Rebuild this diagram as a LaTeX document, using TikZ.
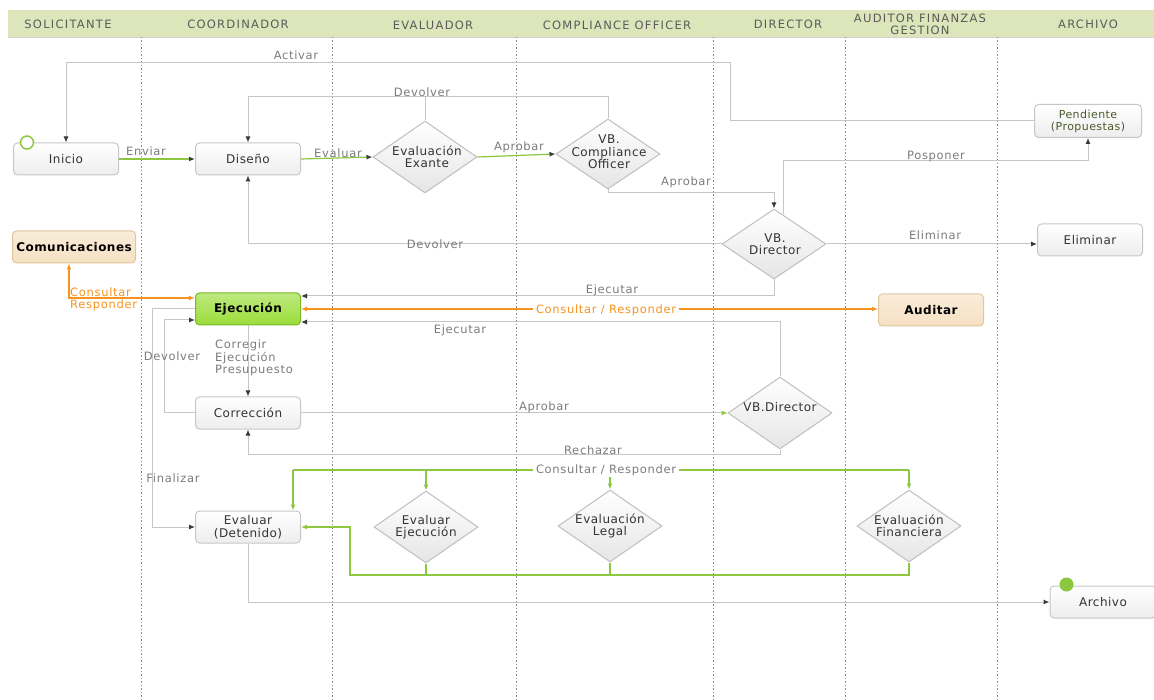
\documentclass[tikz,border=0pt]{standalone}
\usepackage{fontspec}
\setmainfont{DejaVu Sans}[LetterSpace=4]
\newfontfamily\hdrfont{DejaVu Sans}[LetterSpace=11]
\newfontfamily\lblfont{DejaVu Sans}[LetterSpace=6]
\usetikzlibrary{shapes.geometric,arrows.meta,calc}

\definecolor{hdrbg}{HTML}{DCE6BA}
\definecolor{hdrtx}{HTML}{5A5A5A}
\definecolor{lanec}{HTML}{8A8A8A}
\definecolor{wirec}{HTML}{C6C6C6}
\definecolor{wiretx}{HTML}{7C7C7C}
\definecolor{lime}{HTML}{8DC63F}
\definecolor{amber}{HTML}{F7941D}
\definecolor{tipc}{HTML}{3A3A3A}
\definecolor{tanc}{HTML}{F6E0C2}
\definecolor{tanedge}{HTML}{E0C69E}
\definecolor{exegreen}{HTML}{9BDD3A}
\definecolor{exeedge}{HTML}{78B82A}
\definecolor{olivetx}{HTML}{4B5A2A}

\tikzset{
  box/.style={rectangle, rounded corners=4pt, draw=black!22, line width=1pt,
    top color=white, bottom color=black!7, minimum width=105pt, minimum height=32pt,
    inner sep=2pt, font=\fontsize{12}{13}\selectfont, text=black!80, align=center},
  hotbox/.style={box, draw=tanedge, top color=tanc!60, bottom color=tanc,
    font=\bfseries\fontsize{12}{13}\selectfont, text=black},
  exebox/.style={box, draw=exeedge, top color=exegreen!65, bottom color=exegreen,
    font=\bfseries\fontsize{12}{13}\selectfont, text=black},
  dia/.style={diamond, draw=black!25, line width=1pt, top color=white,
    bottom color=black!10, minimum width=104pt, minimum height=72pt, inner sep=0pt},
  dtxt/.style={font=\fontsize{12}{12.5}\selectfont, text=black!80, align=center, inner sep=0pt},
  wire/.style={draw=wirec, line width=1pt},
  arr/.style={wire, -{Latex[length=6pt,width=5pt,color=tipc]}},
  glink/.style={draw=lime, line width=1.2pt},
  garr/.style={glink, -{Latex[length=6pt,width=5pt]}},
  gdarr/.style={glink, -{Latex[length=6pt,width=5pt,color=tipc]}},
  gtiparr/.style={wire, -{Latex[length=6pt,width=5pt,color=lime]}},
  oboth/.style={draw=amber, line width=1.2pt,
    {Latex[length=6pt,width=5pt]}-{Latex[length=6pt,width=5pt]}},
  lbl/.style={font=\lblfont\fontsize{11.5}{12.5}\selectfont, text=wiretx, inner sep=1pt},
  hdr/.style={font=\hdrfont\fontsize{11.5}{12}\selectfont, text=hdrtx, align=center},
  lanestyle/.style={draw=lanec, line width=0.8pt, dash pattern=on 1.5pt off 2pt}
}

\begin{document}
\begin{tikzpicture}[x=1pt,y=-1pt]
\useasboundingbox (0,0) rectangle (1154,700);
\fill[white] (0,0) rectangle (1154,700);

% header band and lane titles
\fill[hdrbg] (8,10) rectangle (1154,37);
\draw[black!18] (8,37) -- (1154,37);
\node[hdr] (h1) at (68,24) {SOLICITANTE};
\node[hdr] (h2) at (238,24) {COORDINADOR};
\node[hdr] (h3) at (433,25) {EVALUADOR};
\node[hdr] (h4) at (617,25) {COMPLIANCE OFFICER};
\node[hdr] (h5) at (788,24) {DIRECTOR};
\node[hdr] (h6) at (920,24) {AUDITOR FINANZAS\\GESTION};
\node[hdr] (h7) at (1088,24) {ARCHIVO};

% lane separators
\foreach \x in {141,332,516,713,845,997}
  \draw[lanestyle] (\x,37) -- (\x,700);

% process steps
\node[box] (ini) at (66,159) {Inicio};
\node[box] (dis) at (248,159) {Diseño};
\node[dia] (exa) at (425,157) {};
\node[dtxt] (exat) at ($(exa)+(2,0)$) {Evaluación\\Exante};
\node[dia, minimum height=70pt] (vbc) at (608,154) {};
\node[dtxt] (vbct) at ($(vbc)+(1,-2)$) {VB.\\Compliance\\Officer};
\node[dia, minimum height=70pt] (vbd) at (774,244) {};
\node[dtxt] (vbdt) at ($(vbd)+(1,0)$) {VB.\\Director};
\node[box, minimum width=107pt, minimum height=33pt, font=\fontsize{11}{12}\selectfont, text=olivetx] (pen) at (1088,121) {Pendiente\\(Propuestas)};
\node[box] (eli) at (1090,240) {Eliminar};
\node[hotbox, minimum width=123pt] (com) at (74,247) {Comunicaciones};
\node[exebox] (eje) at (248,309) {Ejecución};
\node[hotbox] (aud) at (931,310) {Auditar};
\node[box] (cor) at (248,413) {Corrección};
\node[dia] (vbd2) at (780,413) {};
\node[dtxt] (vbd2t) at ($(vbd2)+(0,-6)$) {VB.Director};
\node[box] (evd) at (248,527) {Evaluar\\(Detenido)};
\node[dia] (eve) at (426,527) {};
\node[dtxt] (evet) at (eve) {Evaluar\\Ejecución};
\node[dia] (leg) at (610,526) {};
\node[dtxt] (legt) at (leg) {Evaluación\\Legal};
\node[dia] (fin) at (909,526) {};
\node[dtxt] (fint) at (fin) {Evaluación\\Financiera};
\node[box, minimum width=106pt] (arc) at (1103,602) {Archivo};

% start and end events
\node[circle, draw=lime, line width=1.5pt, fill=white, minimum size=13pt, inner sep=0pt] (st) at ($(ini.north west)+(14,0)$) {};
\node[circle, fill=lime, minimum size=14pt, inner sep=0pt] (en) at ($(arc.north west)+(17,-1)$) {};

% helper rows
\coordinate (dv) at (0,97);
\coordinate (ap) at (0,193);
\coordinate (pp) at (0,161);
\coordinate (act) at (730,63);
\coordinate (rb) at (0,575);
\coordinate (cl) at (293,470);

% upper flow
\draw[arr] (pen.west) -| (act) -| (ini.north);
\draw[gdarr] (ini.east) -- (dis.west);
\draw[gdarr] (dis.east) -- (exa.west);
\draw[gdarr] (exa.east) -- (vbc.west);
\draw[wire] (exa.north) -- (exa.north |- dv);
\draw[arr] (vbc.north) |- (dv -| dis.north) -- (dis.north);
\draw[arr] (vbc.south) |- (ap -| vbd.north) -- (vbd.north);
\draw[arr] ($(vbd.north)+(9,6)$) |- (pp -| pen.south) -- (pen.south);
\draw[arr] (vbd.east) -- (vbd.east -| eli.west);
\draw[arr] (vbd.west) -| (dis.south);
\draw[arr] (vbd.south) |- ($(eje.east)+(0,-13)$);

% execution block
\draw[oboth] (eje.east) -- (eje.east -| aud.west);
\draw[oboth] ($(com.south)+(-5,0)$) |- ($(eje.west)+(0,-11)$);
\draw[arr] (vbd2.north) |- ($(eje.east)+(0,13)$);
\draw[arr] (eje.west) -- ++(-43,0) |- (evd.west);
\draw[arr] (cor.west) -- ++(-31,0) |- ($(eje.west)+(0,11)$);
\draw[arr] (eje.south) -- (cor.north);
\draw[gtiparr] (cor.east) -- (vbd2.west);
\draw[arr] (vbd2.south) |- ($(cor.south)+(0,25)$) -- (cor.south);

% evaluation block
\draw[glink] (cl) -- (fin.north |- cl);
\draw[garr] (cl) -- (cl |- evd.north);
\draw[garr] (eve.north |- cl) -- (eve.north);
\draw[garr] (fin.north |- cl) -- (fin.north);
\draw[glink] (eve.south) -- (eve.south |- rb);
\draw[glink] (leg.south) -- (leg.south |- rb);
\draw[garr] (fin.south) -- (fin.south |- rb) -| ($(evd.east)+(49,0)$) -- (evd.east);
\draw[arr] (evd.south) |- (arc.west);

% connector labels
\node[lbl] (lact) at (296,55) {Activar};
\node[lbl] (lenv) at (146,151) {Enviar};
\node[lbl] (leva) at (338,153) {Evaluar};
\node[lbl] (lapr1) at (519,147) {Aprobar};
\node[lbl] (ldev1) at (422,92) {Devolver};
\node[lbl] (lapr2) at (686,182) {Aprobar};
\node[lbl] (lpos) at (936,157) {Posponer};
\node[lbl] (lelim) at (935,235) {Eliminar};
\node[lbl] (ldev2) at (435,244) {Devolver};
\node[lbl] (lej1) at (612,290) {Ejecutar};
\node[lbl, text=amber, fill=white, inner xsep=3pt] (lcr1) at (606,310) {Consultar / Responder};
\node[lbl] (lej2) at (460,330) {Ejecutar};
\node[lbl, text=amber, align=left, anchor=west, font=\lblfont\fontsize{11.5}{12}\selectfont] (lcr2) at (69,299) {Consultar\\Responder};
\node[lbl] (ldev3) at (172,356) {Devolver};
\node[lbl, align=left, anchor=north west, font=\lblfont\fontsize{11.5}{12.5}\selectfont] (lcorr) at (214,339) {Corregir\\Ejecución\\Presupuesto};
\node[lbl] (lapr3) at (544,407) {Aprobar};
\node[lbl] (lrech) at (593,450) {Rechazar};
\node[lbl] (lfin) at (173,478) {Finalizar};
\node[lbl, fill=white, inner xsep=3pt] (lcr3) at (606,470) {Consultar / Responder};
\draw[garr] (lcr3.south -| leg.north) -- (leg.north);
\end{tikzpicture}
\end{document}
